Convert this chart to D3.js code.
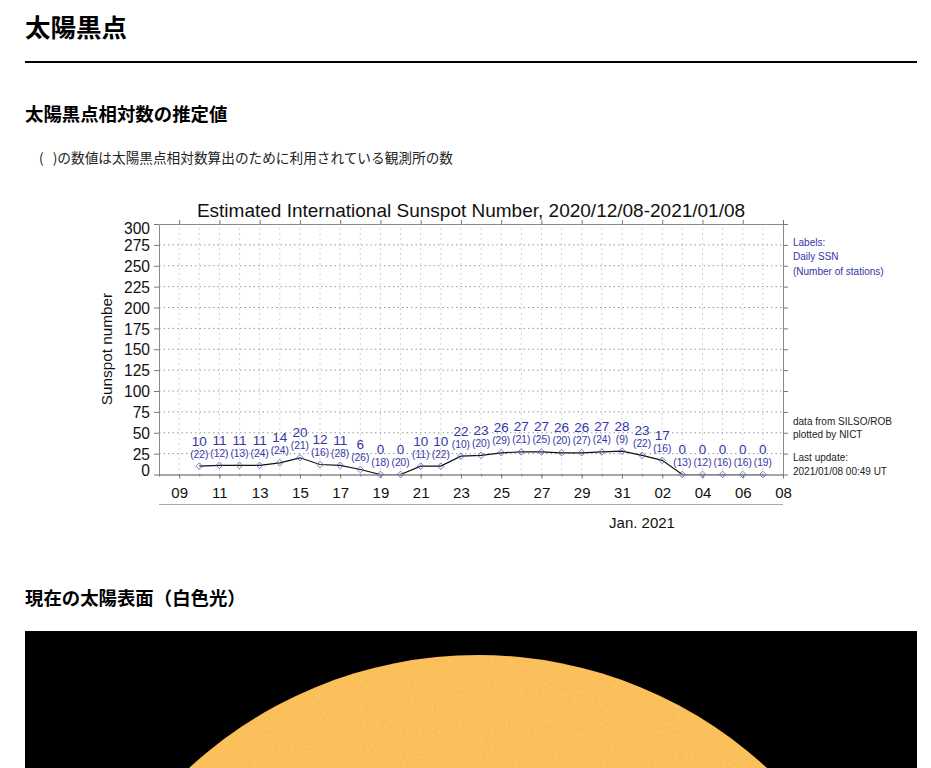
<!DOCTYPE html>
<html lang="ja">
<head>
<meta charset="utf-8">
<title>太陽黒点</title>
<script src="https://cdn.jsdelivr.net/npm/d3@7"></script>
<style>
html, body { margin: 0; padding: 0; background: #fff; overflow: hidden; width: 931px; height: 768px; }
body { font-family: "Noto Sans CJK JP", sans-serif; color: #000; position: relative; }
h1, h2, p { position: absolute; margin: 0; white-space: pre; line-height: 1; }
h1 { left: 25px; top: 13px; font-size: 25.5px; font-weight: 700; }
h2 { left: 25px; font-size: 18.4px; font-weight: 700; }
p { left: 39px; top: 151px; font-size: 13.66px; color: #222; word-spacing: 1.5px; }
hr { position: absolute; left: 25px; top: 61px; width: 892px; height: 2px; margin: 0; border: 0; background: #000; }
svg { position: absolute; left: 0; top: 0; }
svg text { font-family: "Liberation Sans", Arial, sans-serif; }
.axis path { stroke: #8a8a8a; }
.axis line { stroke: #777; }
.axis text { fill: #111; }
</style>
</head>
<body>
<h1>太陽黒点</h1>
<hr>
<h2 style="top:104px">太陽黒点相対数の推定値</h2>
<p>(  )の数値は太陽黒点相対数算出のために利用されている観測所の数</p>
<h2 style="top:588px">現在の太陽表面（白色光）</h2>
<svg id="page" width="931" height="768"></svg>
<script>
var chartTitle = "Estimated International Sunspot Number, 2020/12/08-2021/01/08";
var startDate = "2020-12-10";
var ssnValues = [10, 11, 11, 11, 14, 20, 12, 11, 6, 0, 0, 10, 10, 22, 23, 26, 27, 27, 26, 26, 27, 28, 23, 17, 0, 0, 0, 0, 0];
var stationCounts = [22, 12, 13, 24, 24, 21, 16, 28, 26, 18, 20, 11, 22, 10, 20, 29, 21, 25, 20, 27, 24, 9, 22, 16, 13, 12, 16, 16, 19];
var yTicks = [0, 25, 50, 75, 100, 125, 150, 175, 200, 225, 250, 275, 300];
var labelNotes = ["Labels:", "Daily SSN", "(Number of stations)"];
var creditNotes = ["data from SILSO/ROB", "plotted by NICT"];
var updateNotes = ["Last update:", "2021/01/08 00:49 UT"];

var blue = "#3535a8";
var svg = d3.select("#page");

var x = d3.scaleUtc()
    .domain([new Date(Date.UTC(2020, 11, 8)), new Date(Date.UTC(2021, 0, 8))])
    .range([159, 783]);
var y = d3.scaleLinear().domain([0, 300]).range([474.5, 224]);

var allDays = d3.utcDay.range(x.domain()[0], d3.utcDay.offset(x.domain()[1], 1));
var labelDays = allDays.filter(function(d, i){ return i % 2 == 1; });

var points = ssnValues.map(function(v, i){
    return {
        date: d3.utcDay.offset(new Date(startDate + "T00:00:00Z"), i),
        ssn: v,
        stations: stationCounts[i]
    };
});

//grid first, everything else sits on top of it
svg.append("g").selectAll("line")
    .data(allDays.slice(1, -1))
    .enter().append("line")
    .attr("x1", function(d){ return x(d); })
    .attr("x2", function(d){ return x(d); })
    .attr("y1", y(0)).attr("y2", y(300))
    .attr("stroke", "#aaa").attr("stroke-dasharray", "1 4");
svg.append("g").selectAll("line")
    .data(yTicks.slice(1, -1))
    .enter().append("line")
    .attr("x1", x.range()[0]).attr("x2", x.range()[1])
    .attr("y1", function(d){ return y(d); })
    .attr("y2", function(d){ return y(d); })
    .attr("stroke", "#999").attr("stroke-dasharray", "1.5 3");

//series, clipped at the bottom of the plot so zero days sit half under the axis
svg.append("clipPath").attr("id", "plot-clip").append("rect")
    .attr("x", x.range()[0]).attr("y", y(300))
    .attr("width", x.range()[1] - x.range()[0]).attr("height", y(0) - y(300));
svg.append("path")
    .datum(points)
    .attr("clip-path", "url(#plot-clip)")
    .attr("fill", "none").attr("stroke", "#111").attr("stroke-width", 1.2)
    .attr("d", d3.line()
        .x(function(d){ return x(d.date); })
        .y(function(d){ return y(d.ssn); }));

//left and right axes
var left = svg.append("g").attr("class", "axis")
    .attr("transform", "translate(" + x.range()[0] + ",0)")
    .call(d3.axisLeft(y).tickValues(yTicks).tickSize(5).tickSizeOuter(0).tickPadding(4));
left.selectAll("text")
    .attr("font-size", 15.6)
    .attr("dy", function(d){
        //the end labels are pushed inwards in the original plot
        return d == 0 ? "0.09em" : d == 300 ? "0.6em" : "0.36em";
    });
svg.append("g").attr("class", "axis")
    .attr("transform", "translate(" + x.range()[1] + ",0)")
    .call(d3.axisRight(y).tickValues(yTicks).tickSize(5).tickSizeOuter(0).tickFormat(""));

//bottom and top axes, small tick each day and longer tick on the labelled days
var dayFormat = d3.utcFormat("%d");
var bottom = svg.append("g").attr("class", "axis")
    .attr("transform", "translate(0," + y(0) + ")")
    .call(d3.axisBottom(x).tickValues(labelDays).tickSize(4).tickSizeOuter(0).tickPadding(9).tickFormat(dayFormat));
bottom.selectAll("text").attr("font-size", 15);
svg.append("g").attr("class", "axis")
    .attr("transform", "translate(0," + y(0) + ")")
    .call(d3.axisBottom(x).tickValues(allDays).tickSize(2).tickSizeOuter(0).tickFormat(""));
svg.append("g").attr("class", "axis")
    .attr("transform", "translate(0," + y(300) + ")")
    .call(d3.axisTop(x).tickValues(labelDays).tickSize(4).tickSizeOuter(0).tickFormat(""));

svg.append("line")
    .attr("x1", x.range()[0]).attr("x2", x.range()[1])
    .attr("y1", 504.5).attr("y2", 504.5)
    .attr("stroke", "#aaa").attr("stroke-width", 1.2);

var diamond = d3.symbol().type(d3.symbolDiamond2).size(28);
var pointGroups = svg.append("g").selectAll("g")
    .data(points)
    .enter().append("g")
    .attr("transform", function(d){ return "translate(" + x(d.date) + "," + y(d.ssn) + ")"; });
pointGroups.append("path")
    .attr("d", diamond)
    .attr("fill", "none").attr("stroke", "#5a5ab8").attr("stroke-width", 0.8);
pointGroups.append("text")
    .attr("text-anchor", "middle").attr("y", -20.5).attr("font-size", 13.5).attr("fill", blue)
    .text(function(d){ return d.ssn; });
pointGroups.append("text")
    .attr("text-anchor", "middle").attr("y", -8.5).attr("font-size", 10.2).attr("fill", blue)
    .text(function(d){ return "(" + d.stations + ")"; });

//titles
svg.append("text")
    .attr("x", 471).attr("y", 216.5)
    .attr("text-anchor", "middle").attr("font-size", 19).attr("fill", "#111")
    .text(chartTitle);
svg.append("text")
    .attr("transform", "translate(112,349) rotate(-90)")
    .attr("text-anchor", "middle").attr("font-size", 15.3).attr("fill", "#111")
    .text("Sunspot number");
svg.append("text")
    .attr("x", 642).attr("y", 528)
    .attr("text-anchor", "middle").attr("font-size", 15).attr("fill", "#111")
    .text("Jan. 2021");

//notes on the right of the plot
function addNotes(lines, top, step, color){
    svg.append("g").selectAll("text")
        .data(lines)
        .enter().append("text")
        .attr("x", 793)
        .attr("y", function(d, i){ return top + i * step; })
        .attr("font-size", 10).attr("fill", color)
        .text(function(d){ return d; });
}
addNotes(labelNotes, 245.5, 14.5, blue);
addNotes(creditNotes, 424.5, 13.5, "#222");
addNotes(updateNotes, 461, 14, "#222");

//white light image of the sun at the bottom of the page
var defs = svg.append("defs");
var mottle = defs.append("filter").attr("id", "mottle")
    .attr("x", 0).attr("y", 0).attr("width", 1).attr("height", 1);
mottle.append("feTurbulence")
    .attr("type", "fractalNoise").attr("baseFrequency", 0.35).attr("numOctaves", 2).attr("seed", 3);
mottle.append("feColorMatrix")
    .attr("values", "0 0 0 0 1  0 0 0 0 0.8  0 0 0 0 0.45  0 0 0 0.3 -0.08");
mottle.append("feComposite").attr("in2", "SourceGraphic").attr("operator", "in");

svg.append("rect")
    .attr("x", 25).attr("y", 631).attr("width", 892).attr("height", 137)
    .attr("fill", "#000");
svg.append("clipPath").attr("id", "sun-clip").append("rect")
    .attr("x", 25).attr("y", 631).attr("width", 892).attr("height", 137);
var sun = svg.append("g").attr("clip-path", "url(#sun-clip)");
sun.append("circle")
    .attr("cx", 478).attr("cy", 1081).attr("r", 426)
    .attr("fill", "#fbbd55");
sun.append("circle")
    .attr("cx", 478).attr("cy", 1081).attr("r", 425)
    .attr("fill", "#fbbd55").attr("filter", "url(#mottle)");
</script>
</body>
</html>
